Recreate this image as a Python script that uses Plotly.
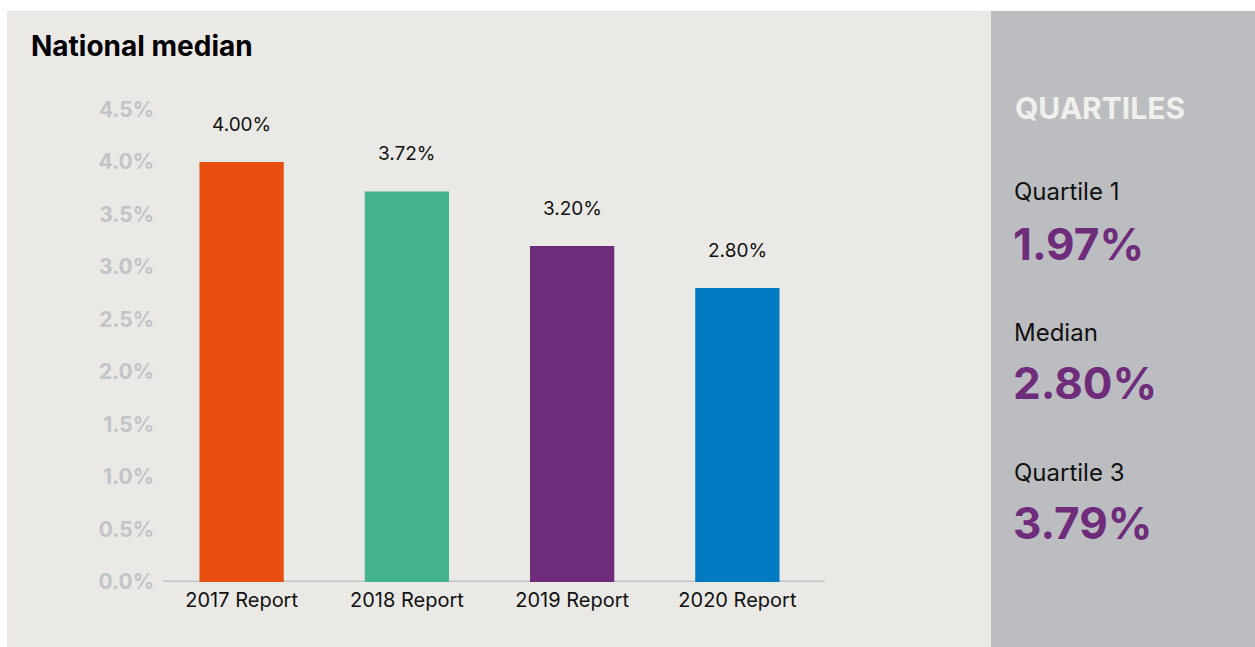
import plotly.graph_objects as go

categories = ["2017 Report", "2018 Report", "2019 Report", "2020 Report"]
values = [4.00, 3.72, 3.20, 2.80]
bar_colors = ["#e84e0f", "#43b48e", "#6e2c7a", "#007bc1"]
value_labels = ["4.00%", "3.72%", "3.20%", "2.80%"]
tick_vals = [0, 0.5, 1.0, 1.5, 2.0, 2.5, 3.0, 3.5, 4.0, 4.5]
tick_text = ["0.0%", "0.5%", "1.0%", "1.5%", "2.0%", "2.5%", "3.0%", "3.5%", "4.0%", "4.5%"]
quartile_names = ["Quartile 1", "Median", "Quartile 3"]
quartile_values = ["1.97%", "2.80%", "3.79%"]

W, H = 1255, 647
FONT = "Inter"

def px_x(p):
    return p / W

def px_y(p):
    return 1 - p / H

fig = go.Figure()
fig.add_trace(go.Bar(
    x=categories, y=values, marker=dict(color=bar_colors, line=dict(width=0)),
    hoverinfo="skip", showlegend=False,
))

annotations = []
# value labels above bars
for c, v, t in zip(categories, values, value_labels):
    annotations.append(dict(x=c, y=v, text=t, showarrow=False, yshift=38,
                            xref="x", yref="y", yanchor="middle",
                            font=dict(family=FONT, size=19, color="#111111")))

shapes = [
    dict(type="rect", xref="paper", yref="paper", x0=px_x(7), x1=px_x(991), y0=0, y1=px_y(11),
         fillcolor="#ebe9e6", line=dict(width=0), layer="below"),
    dict(type="rect", xref="paper", yref="paper", x0=px_x(991), x1=1, y0=0, y1=px_y(11),
         fillcolor="#bcbdc1", line=dict(width=0), layer="below"),
    # baseline
    dict(type="line", xref="paper", yref="y", x0=px_x(163), x1=px_x(825), y0=0, y1=0,
         line=dict(color="#c3c4c8", width=3), layer="below"),
]

annotations.append(dict(text="<b>National median</b>", xref="paper", yref="paper", x=px_x(29), y=px_y(46),
                        xanchor="left", yanchor="middle", showarrow=False,
                        font=dict(family=FONT, size=28, color="#000000")))
annotations.append(dict(text="<b>QUARTILES</b>", xref="paper", yref="paper", x=px_x(1013), y=px_y(108),
                        xanchor="left", yanchor="middle", showarrow=False,
                        font=dict(family=FONT, size=30, color="#f0efeb")))
name_y = [192, 332, 472]
val_y = [244, 383, 523]
for n, v, ny, vy in zip(quartile_names, quartile_values, name_y, val_y):
    annotations.append(dict(text=n, xref="paper", yref="paper", x=px_x(1012), y=px_y(ny),
                            xanchor="left", yanchor="middle", showarrow=False,
                            font=dict(family=FONT, size=24, color="#111111")))
    annotations.append(dict(text="<b>" + v + "</b>", xref="paper", yref="paper", x=px_x(1011), y=px_y(vy),
                            xanchor="left", yanchor="middle", showarrow=False,
                            font=dict(family=FONT, size=44, color="#6e2c7a")))

y_bottom = 582
ppu = 105.0
y_top_val = 4.7
y_top_px = y_bottom - ppu * y_top_val

fig.update_layout(
    width=W, height=H, autosize=False,
    margin=dict(l=0, r=0, t=0, b=0),
    paper_bgcolor="#ffffff", plot_bgcolor="rgba(0,0,0,0)",
    bargap=0.49,
    shapes=shapes,
    xaxis=dict(domain=[px_x(159), px_x(820)], showgrid=False, zeroline=False,
               showline=False, ticks="", tickfont=dict(family=FONT, size=20, color="#111111"),
               ticklabelstandoff=4, fixedrange=True, automargin=False),
    yaxis=dict(domain=[px_y(y_bottom), px_y(y_top_px)], range=[0, y_top_val],
               tickvals=tick_vals, ticktext=tick_text, showgrid=False,
               zeroline=False, showline=False, ticks="",
               tickfont=dict(family=FONT, size=21, color="#c3c4c8", weight="bold"),
               ticklabelstandoff=4, fixedrange=True, automargin=False),
    annotations=annotations,
)

fig.write_html("out.html", config={"displayModeBar": False})
